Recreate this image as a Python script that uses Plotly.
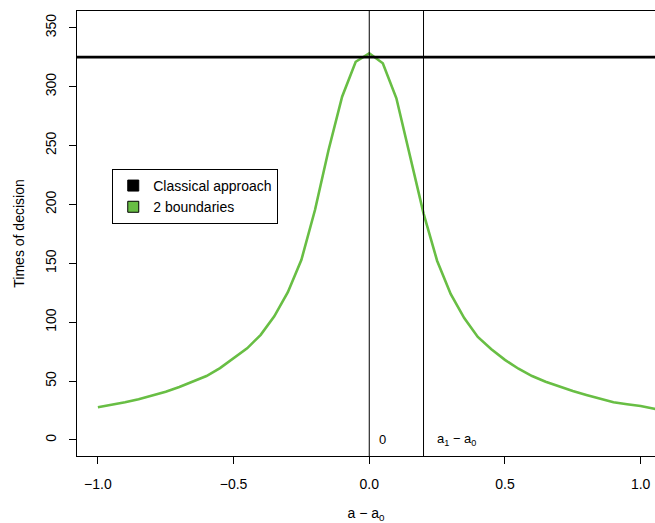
import plotly.graph_objects as go

# ---- data ----
x_vals = [-1.00, -0.95, -0.90, -0.85, -0.80, -0.75, -0.70, -0.65, -0.60, -0.55,
          -0.50, -0.45, -0.40, -0.35, -0.30, -0.25, -0.20, -0.15, -0.10, -0.05,
          0.00, 0.05, 0.10, 0.15, 0.20, 0.25, 0.30, 0.35, 0.40, 0.45,
          0.50, 0.55, 0.60, 0.65, 0.70, 0.75, 0.80, 0.85, 0.90, 0.95,
          1.00, 1.05, 1.10]
two_boundaries = [27.8, 29.8, 32.0, 34.6, 37.6, 41.0, 45.0, 49.4, 54.3, 61.0,
                  69.4, 77.8, 89.3, 105.0, 125.5, 153.0, 195.2, 246.2, 291.4, 321.1,
                  328.3, 319.8, 290.1, 241.0, 192.4, 152.2, 124.0, 103.5, 87.5, 77.0,
                  68.0, 60.5, 54.3, 49.5, 45.2, 41.5, 38.2, 35.0, 32.0, 30.3,
                  28.8, 26.5, 25.0]
classical_value = 325.0
vlines_x = [0.0, 0.2]
x_ticks = [-1.0, -0.5, 0.0, 0.5, 1.0]
y_ticks = [0, 50, 100, 150, 200, 250, 300, 350]
series_names = ["Classical approach", "2 boundaries"]

GREEN = "rgb(104,190,68)"
FONT = "Liberation Sans, Arial, sans-serif"

fig = go.Figure()

# classical approach horizontal line
fig.add_hline(y=classical_value, line=dict(color="black", width=2.6), layer="above")
# vertical reference lines
for xv in vlines_x:
    fig.add_vline(x=xv, line=dict(color="black", width=1))

# 2 boundaries curve
fig.add_trace(go.Scatter(x=x_vals, y=two_boundaries, mode="lines",
                         line=dict(color=GREEN, width=2.6), showlegend=False,
                         cliponaxis=True))

# legend entries (square symbols)
fig.add_trace(go.Scatter(x=[None], y=[None], mode="markers", name=series_names[0],
                         marker=dict(symbol="square", size=11, color="black",
                                     line=dict(color="black", width=1))))
fig.add_trace(go.Scatter(x=[None], y=[None], mode="markers", name=series_names[1],
                         marker=dict(symbol="square", size=11, color=GREEN,
                                     line=dict(color="black", width=1))))

# text labels
fig.add_annotation(x=0.05, y=0, text="0", showarrow=False,
                   font=dict(size=13, color="black", family=FONT))
fig.add_annotation(x=0.32, y=0, text="a<sub>1</sub> − a<sub>0</sub>", showarrow=False,
                   font=dict(size=13, color="black", family=FONT))

fig.update_layout(
    width=655, height=523,
    margin=dict(l=77, r=0, t=11, b=67, autoexpand=False),
    paper_bgcolor="white", plot_bgcolor="white",
    font=dict(family=FONT, size=14, color="black"),
    legend=dict(x=0.061, y=0.645, xanchor="left", yanchor="top",
                bordercolor="black", borderwidth=1, bgcolor="white",
                font=dict(size=14, family=FONT), tracegroupgap=0,
                itemsizing="trace"),
    xaxis=dict(range=[-1.077, 1.053], tickvals=x_ticks, tickformat=".1f",
               automargin=False, tickfont=dict(size=14),
               showgrid=False, zeroline=False, showline=True, mirror=True,
               linecolor="black", linewidth=1, ticks="outside", ticklen=7,
               tickcolor="black", ticklabelstandoff=8,
               title=dict(text="a − a<sub>0</sub>", standoff=20,
                          font=dict(size=14))),
    yaxis=dict(range=[-13.6, 364.2], tickvals=y_ticks, tickangle=-90,
               automargin=False, tickfont=dict(size=14),
               showgrid=False, zeroline=False, showline=True, mirror=False,
               linecolor="black", linewidth=1, ticks="outside", ticklen=7,
               tickcolor="black", ticklabelstandoff=7,
               title=dict(text="Times of decision", standoff=15,
                          font=dict(size=14))),
)

fig.write_html(
    "out.html",
    config={"displayModeBar": False},
    post_script=(
        "document.documentElement.style.margin='0';"
        "document.documentElement.style.overflow='hidden';"
        "document.body.style.margin='0';"
        "document.body.style.overflow='hidden';"
    ),
)
